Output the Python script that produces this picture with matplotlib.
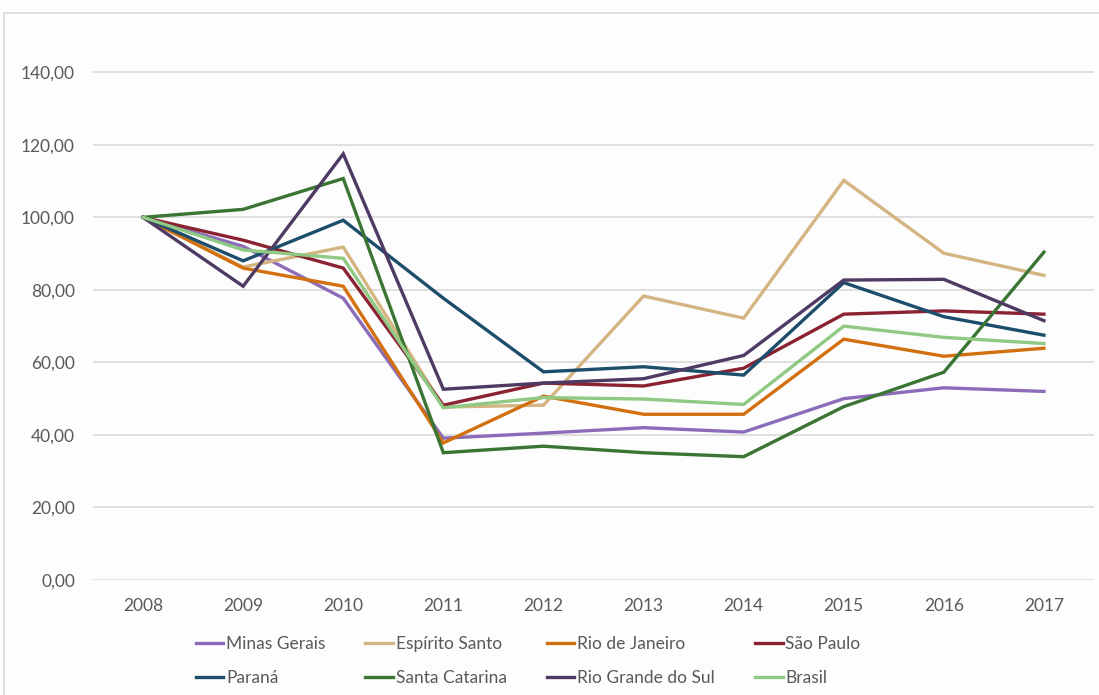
import matplotlib
matplotlib.use('Agg')
import matplotlib.pyplot as plt
from matplotlib import font_manager
from matplotlib.patches import Rectangle

anos = ['2008', '2009', '2010', '2011', '2012', '2013', '2014', '2015', '2016', '2017']

minas_gerais = [100, 92.0, 77.7, 39.1, 40.5, 42.0, 40.8, 50.0, 53.0, 52.0]
espirito_santo = [100, 86.3, 91.8, 47.7, 48.2, 78.3, 72.2, 110.2, 90.1, 84.0]
rio_de_janeiro = [100, 86.0, 81.0, 37.8, 50.7, 45.7, 45.7, 66.4, 61.7, 63.9]
sao_paulo = [100, 93.7, 86.0, 48.2, 54.3, 53.5, 58.4, 73.3, 74.2, 73.3]
parana = [100, 88.0, 99.2, 77.7, 57.4, 58.8, 56.5, 82.0, 72.6, 67.5]
santa_catarina = [100, 102.2, 110.7, 35.1, 36.9, 35.1, 34.0, 47.8, 57.3, 90.4]
rio_grande_do_sul = [100, 81.0, 117.5, 52.6, 54.3, 55.5, 61.9, 82.7, 82.9, 71.5]
brasil = [100, 91.0, 88.7, 47.5, 50.3, 49.9, 48.4, 70.0, 66.9, 65.2]

series = [
    ('Minas Gerais', minas_gerais, '#8c6bb8'),
    ('Espírito Santo', espirito_santo, '#d4b582'),
    ('Rio de Janeiro', rio_de_janeiro, '#d2700f'),
    ('São Paulo', sao_paulo, '#8b2232'),
    ('Paraná', parana, '#1c4e6c'),
    ('Santa Catarina', santa_catarina, '#3a7533'),
    ('Rio Grande do Sul', rio_grande_do_sul, '#4e3a63'),
    ('Brasil', brasil, '#8fc983'),
]

instaladas = {f.name for f in font_manager.fontManager.ttflist}
familias = [f for f in ['Liberation Sans Narrow', 'Lato', 'DejaVu Sans'] if f in instaladas]
plt.rcParams['font.family'] = familias

cinza = '#595959'
fig = plt.figure(figsize=(10.99, 6.95), dpi=100)
fig.patch.set_facecolor('#fdfdfd')
fig.patches.append(Rectangle((4 / 1099, -0.1), 1.2, 1 - 13 / 695 + 0.1, transform=fig.transFigure,
                             fill=False, edgecolor='#d9d9d9', lw=1.2))

# area do grafico: x 93..1094, y 36..580 (0 a 150)
ax = fig.add_axes([93 / 1099, 1 - 580 / 695, (1094 - 93) / 1099, (580 - 36) / 695])
ax.set_facecolor('none')
x = list(range(len(anos)))
handles = {}
for nome, valores, cor in series:
    h, = ax.plot(x, valores, color=cor, lw=2.4, label=nome, solid_joinstyle='miter')
    handles[nome] = h

ax.set_xlim(-0.5, len(anos) - 0.5)
ax.set_ylim(0, 150)
ax.set_yticks(range(0, 141, 20))
ax.set_yticklabels([f'{v},00' for v in range(0, 141, 20)])
ax.set_xticks(x)
ax.set_xticklabels(anos)
ax.grid(axis='y', color='#d9d9d9', lw=1.2)
ax.set_axisbelow(True)
for s in ax.spines.values():
    s.set_visible(False)
ax.tick_params(length=0, labelsize=12.5, colors=cinza)
ax.tick_params(axis='y', pad=13)
ax.tick_params(axis='x', pad=13)

ordem = ['Minas Gerais', 'Paraná', 'Espírito Santo', 'Santa Catarina',
         'Rio de Janeiro', 'Rio Grande do Sul', 'São Paulo', 'Brasil']
leg = fig.legend([handles[n] for n in ordem], ordem, ncol=4, loc='center',
                 bbox_to_anchor=(528 / 1099, 1 - 661 / 695), frameon=False, fontsize=12.5,
                 handlelength=1.6, handletextpad=0.15, columnspacing=2.3, labelspacing=1.0,
                 borderaxespad=0)
for t in leg.get_texts():
    t.set_color(cinza)

fig.savefig('out.png', dpi=100, facecolor=fig.get_facecolor())
